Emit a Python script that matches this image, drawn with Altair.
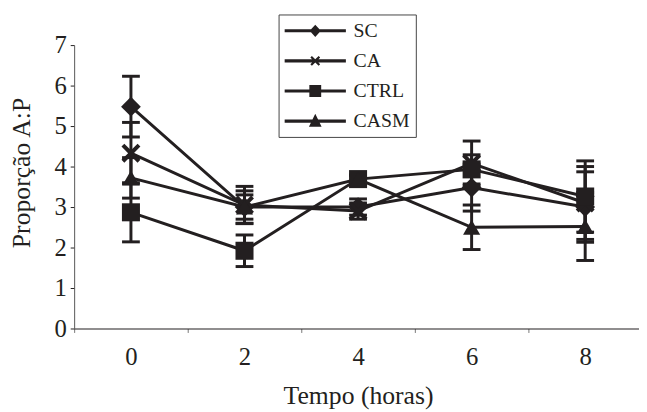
import altair as alt
import pandas as pd

times = ["0", "2", "4", "6", "8"]
series = ["SC", "CA", "CTRL", "CASM"]

sc_mean = [5.48, 3.00, 3.00, 3.48, 3.00]
sc_err = [0.75, 0.40, 0.20, 0.58, 0.87]
ca_mean = [4.33, 3.05, 2.90, 4.08, 3.10]
ca_err = [0.76, 0.46, 0.20, 0.55, 0.90]
ctrl_mean = [2.87, 1.92, 3.69, 3.93, 3.26]
ctrl_err = [0.73, 0.39, 0.10, 0.36, 0.88]
casm_mean = [3.72, 3.00, 3.69, 2.50, 2.52]
casm_err = [0.50, 0.30, 0.10, 0.55, 0.84]

means = {"SC": sc_mean, "CA": ca_mean, "CTRL": ctrl_mean, "CASM": casm_mean}
errs = {"SC": sc_err, "CA": ca_err, "CTRL": ctrl_err, "CASM": casm_err}

rows = []
for s in series:
    for t, m, e in zip(times, means[s], errs[s]):
        rows.append({"t": t, "series": s, "mean": m, "lo": m - e, "hi": m + e})
df = pd.DataFrame(rows)

C = "#231f20"
FONT = "Liberation Serif"

xpath = ("M-1,-0.7L-0.7,-1L0,-0.3L0.7,-1L1,-0.7L0.3,0L1,0.7L0.7,1L0,0.3"
         "L-0.7,1L-1,0.7L-0.3,0Z")
point_shapes = ["diamond", xpath, "square", "triangle-up"]
point_sizes = [400, 300, 441, 441]

# legend glyphs: a line segment from x=-1 to x=5 with the marker at x=2
line_seg = "M-1,-0.15L5,-0.15L5,0.15L-1,0.15Z"
leg_paths = [
    line_seg + "M2,-0.6L2.55,0L2,0.6L1.45,0Z",
    line_seg + "M1.52,-0.33L1.67,-0.48L2,-0.15L2.33,-0.48L2.48,-0.33L2.15,0"
               "L2.48,0.33L2.33,0.48L2,0.15L1.67,0.48L1.52,0.33L1.85,0Z",
    line_seg + "M1.42,-0.58L2.58,-0.58L2.58,0.58L1.42,0.58Z",
    line_seg + "M2,-0.72L2.62,0.55L1.38,0.55Z",
]
LEG_SIZE = 427

xscale = alt.Scale(domain=times, range=[0, 575], paddingInner=0, paddingOuter=0)
xaxis = alt.Axis(
    title="Tempo (horas)", labelAngle=0, tickBand="extent", tickSize=4,
    tickColor="#777777", domainColor=C, domainWidth=1.2,
    labelFont=FONT, labelFontSize=25, labelColor=C, labelPadding=12,
    titleFont=FONT, titleFontSize=26, titleFontWeight="normal", titleColor=C,
    titleBaseline="alphabetic", titleY=76, grid=False,
)
yscale = alt.Scale(domain=[0, 7], nice=False, zero=True)
yaxis = alt.Axis(
    title="Proporção A:P", values=[0, 1, 2, 3, 4, 5, 6, 7], tickSize=4,
    tickColor=C, domainColor="#555555", domainWidth=1,
    labelFont=FONT, labelFontSize=25, labelColor=C, labelPadding=4,
    titleFont=FONT, titleFontSize=26, titleFontWeight="normal", titleColor=C,
    titleBaseline="alphabetic", titleAngle=-90, titleAlign="center",
    titleX=-45, titleY=129, grid=False,
)

base = alt.Chart(df).encode(
    x=alt.X("t:O", sort=times, scale=xscale, axis=xaxis)
)

err = base.mark_rule(strokeWidth=3, color=C).encode(
    y=alt.Y("lo:Q", scale=yscale, axis=yaxis), y2="hi:Q"
)
cap_hi = base.mark_tick(size=18, thickness=3, color=C, opacity=1).encode(y="hi:Q")
cap_lo = base.mark_tick(size=18, thickness=3, color=C, opacity=1).encode(y="lo:Q")
lines = base.mark_line(strokeWidth=3, color=C).encode(
    y="mean:Q", detail="series:N", order="t:O"
)
pts = base.mark_point(filled=True, opacity=1, color=C, strokeWidth=0).encode(
    y="mean:Q",
    shape=alt.Shape("series:N", scale=alt.Scale(domain=series, range=point_shapes), legend=None),
    size=alt.Size("series:N", scale=alt.Scale(domain=series, range=point_sizes), legend=None),
)
leg = base.mark_point(filled=True, opacity=1, color=C, strokeWidth=0, size=LEG_SIZE).encode(
    y="mean:Q",
    shape=alt.Shape(
        "series:N",
        scale=alt.Scale(domain=series, range=leg_paths),
        legend=alt.Legend(
            title=None, orient="none", legendX=207, legendY=-31,
            padding=6, rowPadding=9.5, strokeColor="#444444", fillColor="white",
            labelFont=FONT, labelFontSize=20, labelColor=C, labelOffset=49,
            symbolSize=LEG_SIZE, symbolStrokeWidth=0, symbolFillColor=C,
            symbolOpacity=1,
        ),
    ),
).transform_filter("false")

chart = (
    alt.layer(err, cap_hi, cap_lo, lines, pts, leg)
    .resolve_scale(shape="independent", size="independent")
    .properties(
        width=572, height=287,
        autosize=alt.AutoSizeParams(type="none"),
        padding={"left": 67, "top": 35, "right": 0, "bottom": 82},
    )
    .configure_view(stroke=None)
)

chart.save("out.html", embed_options={"renderer": "svg", "actions": False})
